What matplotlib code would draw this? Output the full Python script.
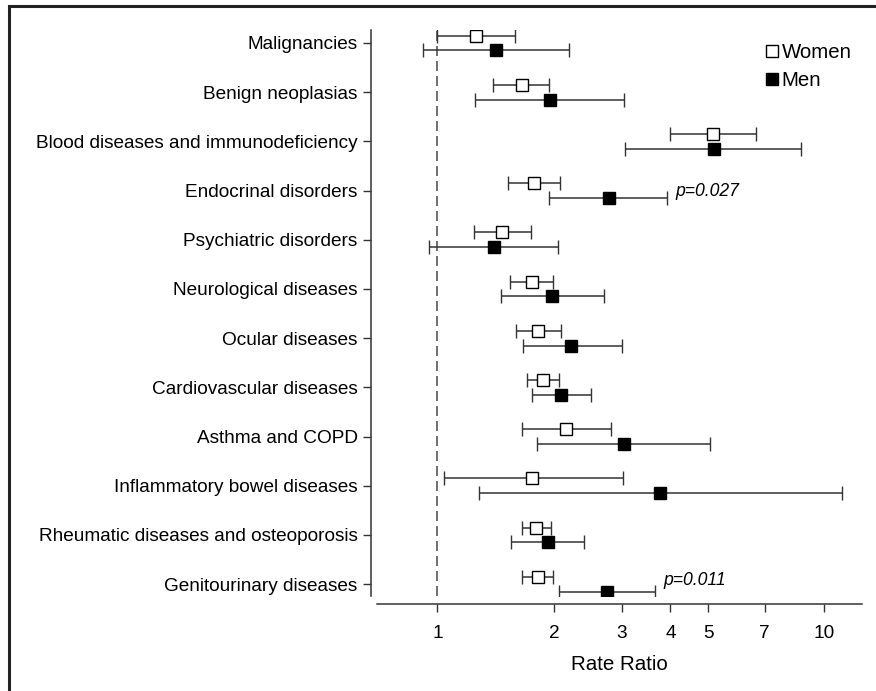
import numpy as np
import matplotlib
matplotlib.use("Agg")
import matplotlib.pyplot as plt
from matplotlib.patches import Rectangle

plt.rcParams['font.family'] = ['Liberation Sans', 'DejaVu Sans']

categories = ['Malignancies', 'Benign neoplasias', 'Blood diseases and immunodeficiency',
              'Endocrinal disorders', 'Psychiatric disorders', 'Neurological diseases',
              'Ocular diseases', 'Cardiovascular diseases', 'Asthma and COPD',
              'Inflammatory bowel diseases', 'Rheumatic diseases and osteoporosis',
              'Genitourinary diseases']

women_rr = [1.26, 1.65, 5.15, 1.78, 1.47, 1.76, 1.82, 1.87, 2.15, 1.76, 1.80, 1.82]
women_lo = [1.00, 1.39, 3.99, 1.52, 1.24, 1.54, 1.60, 1.70, 1.65, 1.04, 1.65, 1.65]
women_hi = [1.59, 1.94, 6.66, 2.07, 1.74, 1.99, 2.08, 2.06, 2.81, 3.01, 1.96, 1.99]

men_rr = [1.42, 1.95, 5.17, 2.77, 1.40, 1.98, 2.22, 2.08, 3.04, 3.76, 1.93, 2.75]
men_lo = [0.92, 1.25, 3.05, 1.94, 0.95, 1.46, 1.66, 1.76, 1.81, 1.28, 1.55, 2.06]
men_hi = [2.19, 3.04, 8.71, 3.92, 2.05, 2.70, 3.00, 2.49, 5.07, 11.09, 2.39, 3.65]

pvals = {3: 'p=0.027', 11: 'p=0.011'}
xticks = [1, 2, 3, 4, 5, 7, 10]

fig = plt.figure(figsize=(8.76, 6.91), dpi=100)
W, H = 876, 691
ax = fig.add_axes([377 / W, 1 - 596 / H, (862 - 377) / W, (596 - 30) / H])

y = np.arange(len(categories))
off = 0.15
ecol = '#333333'

wr = np.array(women_rr)
mr = np.array(men_rr)
ax.errorbar(wr, y - off, xerr=[wr - np.array(women_lo), np.array(women_hi) - wr],
            fmt='s', ms=8, mfc='white', mec='black', mew=1.0, ecolor=ecol,
            elinewidth=1.1, capsize=5, capthick=1.1, label='Women', zorder=3)
ax.errorbar(mr, y + off, xerr=[mr - np.array(men_lo), np.array(men_hi) - mr],
            fmt='s', ms=8.5, mfc='black', mec='black', mew=1.0, ecolor=ecol,
            elinewidth=1.1, capsize=5, capthick=1.1, label='Men', zorder=3)

ax.axvline(1, color='#555555', lw=1.2, ls=(0, (6, 3)), zorder=1)

# p-value notes, just right of the men's upper limit
ax.text(men_hi[3] * 1.05, 3.02, pvals[3], style='italic', fontsize=12.7,
        va='center', ha='left')
ax.text(men_hi[11] * 1.05, 10.92, pvals[11], style='italic', fontsize=12.7,
        va='center', ha='left')

ax.set_xscale('log')
ax.set_xlim(0.698, 12.5)
ax.set_ylim(11.24, -0.264)
ax.set_xticks(xticks)
ax.set_xticklabels([str(t) for t in xticks])
ax.minorticks_off()
ax.set_yticks(y)
ax.set_yticklabels(categories)
ax.tick_params(axis='both', labelsize=13.7, length=6, width=1, color='#333333', pad=4)
ax.tick_params(axis='x', pad=9)
ax.set_xlabel('Rate Ratio', fontsize=14.8, labelpad=9)

for s in ['top', 'right']:
    ax.spines[s].set_visible(False)
ax.spines['left'].set_position(('outward', 4))
ax.spines['bottom'].set_position(('outward', 6))
for s in ['left', 'bottom']:
    ax.spines[s].set_color('#333333')
    ax.spines[s].set_linewidth(1.1)

h, l = ax.get_legend_handles_labels()
leg = ax.legend([hh[0] for hh in h], l, loc='upper right', bbox_to_anchor=(1.0, 0.995),
                frameon=False, fontsize=14.7, handlelength=0.5, handletextpad=0.25,
                labelspacing=0.45, borderaxespad=0.1)

fig.patches.append(Rectangle((9 / W, -0.1), 1.2, 1 - 6 / H + 0.1, transform=fig.transFigure,
                             fill=False, ec='#222222', lw=2.2))

fig.savefig('out.png', dpi=100)
